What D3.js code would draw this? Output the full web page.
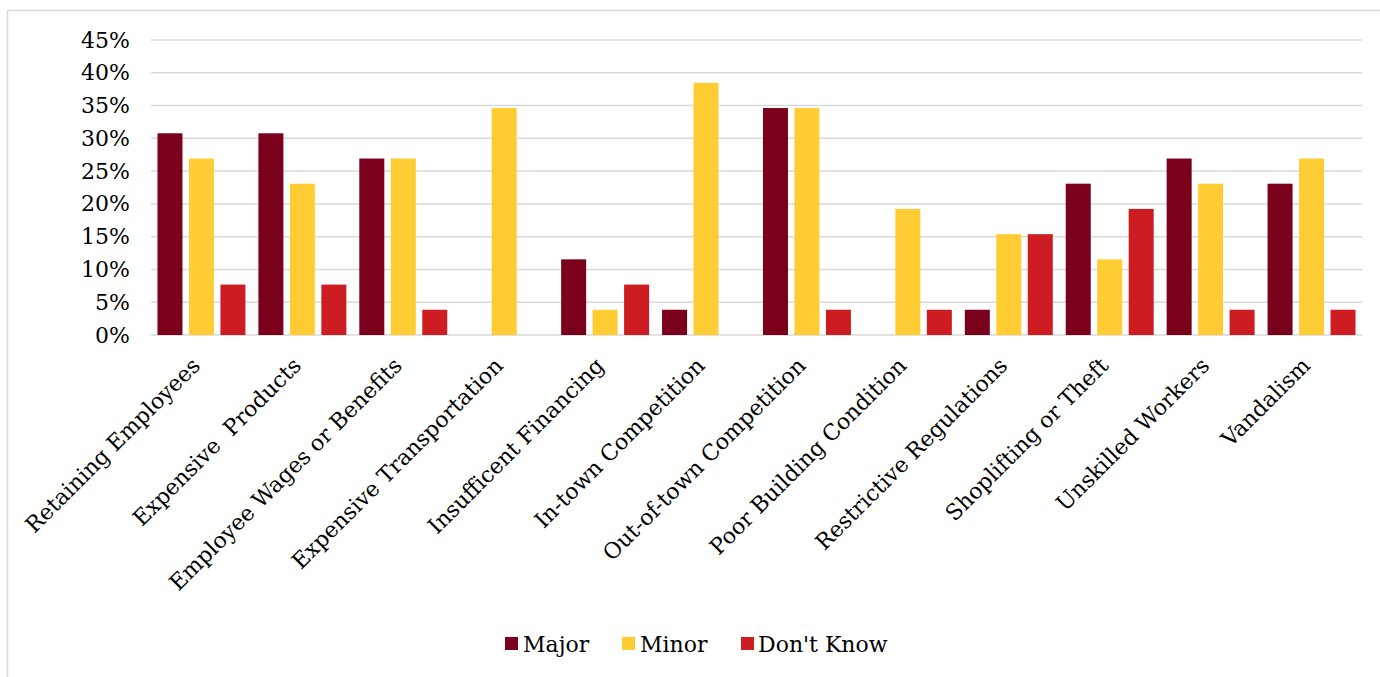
<!DOCTYPE html>
<html>
<head>
<meta charset="utf-8">
<script src="https://cdn.jsdelivr.net/npm/d3@7"></script>
<style>
  html, body { margin: 0; padding: 0; background: #fff; }
  svg { display: block; font-family: "DejaVu Serif", "Liberation Serif", serif; }
</style>
</head>
<body>
<svg id="chart" width="1380" height="677"></svg>
<script>
// Survey responses: share of businesses rating each issue as a problem
const categories = [
  "Retaining Employees",
  "Expensive  Products",
  "Employee Wages or Benefits",
  "Expensive Transportation",
  "Insufficent Financing",
  "In-town Competition",
  "Out-of-town Competition",
  "Poor Building Condition",
  "Restrictive Regulations",
  "Shoplifting or Theft",
  "Unskilled Workers",
  "Vandalism"
];
const seriesNames = ["Major", "Minor", "Don't Know"];
const major    = [0.3077, 0.3077, 0.2692, 0,      0.1154, 0.0385, 0.3462, 0,      0.0385, 0.2308, 0.2692, 0.2308];
const minor    = [0.2692, 0.2308, 0.2692, 0.3462, 0.0385, 0.3846, 0.3462, 0.1923, 0.1538, 0.1154, 0.2308, 0.2692];
const dontKnow = [0.0769, 0.0769, 0.0385, 0,      0.0769, 0,      0.0385, 0.0385, 0.1538, 0.1923, 0.0385, 0.0385];
const yTicks = [0, 0.05, 0.10, 0.15, 0.20, 0.25, 0.30, 0.35, 0.40, 0.45];

const colors = ["#7b001c", "#ffcc33", "#cd1c22"];
const seriesValues = [major, minor, dontKnow];

const svg = d3.select("#chart");
const plot = { left: 151, right: 1362, top: 40, bottom: 335 };

// outer frame
svg.append("rect")
  .attr("x", 7.5).attr("y", 10.5)
  .attr("width", 1400).attr("height", 700)
  .attr("fill", "none").attr("stroke", "#d9d9d9").attr("stroke-width", 1.5);

const x0 = d3.scaleBand().domain(categories).range([plot.left, plot.right]).padding(0);
const x1 = d3.scaleBand().domain(seriesNames).range([0, x0.bandwidth()])
  .paddingInner(0.206).paddingOuter(0.206);
const y = d3.scaleLinear().domain([0, 0.45]).range([plot.bottom, plot.top]);

// gridlines
svg.append("g")
  .selectAll("line").data(yTicks).join("line")
  .attr("x1", plot.left).attr("x2", plot.right)
  .attr("y1", d => y(d)).attr("y2", d => y(d))
  .attr("stroke", "#d9d9d9").attr("stroke-width", 1.5);

// y axis labels
const yAxis = d3.axisLeft(y).tickValues(yTicks).tickFormat(d3.format(".0%")).tickSize(0).tickPadding(21);
const yg = svg.append("g").attr("transform", `translate(${plot.left},0)`).call(yAxis);
yg.select(".domain").remove();
yg.selectAll("text").attr("font-size", 22).attr("fill", "#000")
  .attr("font-family", "DejaVu Serif, serif");

// bars
const rows = categories.map((c, i) => ({
  cat: c,
  vals: seriesNames.map((s, k) => ({ s, k, v: seriesValues[k][i] }))
}));
const groups = svg.append("g").selectAll("g").data(rows).join("g")
  .attr("transform", d => `translate(${x0(d.cat)},0)`);
groups.selectAll("rect").data(d => d.vals.filter(e => e.v > 0)).join("rect")
  .attr("x", d => x1(d.s))
  .attr("width", x1.bandwidth())
  .attr("y", d => y(d.v))
  .attr("height", d => y(0) - y(d.v))
  .attr("fill", d => colors[d.k]);

// x axis labels, rotated
const xl = svg.append("g");
xl.selectAll("text").data(categories).join("text")
  .attr("transform", d => `translate(${x0(d) + x0.bandwidth() / 2},${plot.bottom + 32}) rotate(-45)`)
  .attr("text-anchor", "end")
  .attr("font-size", 22)
  .attr("fill", "#000")
  .style("white-space", "pre")
  .text(d => d);

// legend
const legendItems = [
  { name: "Major", sx: 505, tx: 523 },
  { name: "Minor", sx: 622, tx: 640 },
  { name: "Don't Know", sx: 741, tx: 758 }
];
const lg = svg.append("g");
legendItems.forEach((it, k) => {
  lg.append("rect").attr("x", it.sx).attr("y", 637).attr("width", 13).attr("height", 13)
    .attr("fill", colors[k]);
  lg.append("text").attr("x", it.tx).attr("y", 652).attr("font-size", 22).attr("fill", "#000")
    .text(seriesNames[k]);
});
</script>
</body>
</html>
